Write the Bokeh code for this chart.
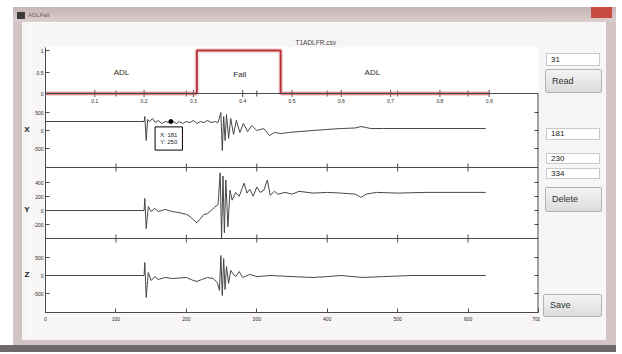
import math
from bokeh.plotting import figure
from bokeh.models import Range1d, FixedTicker, Label, Span, Div
from bokeh.layouts import row, column
from bokeh.embed import file_html
from bokeh.resources import INLINE
from bokeh.core.properties import value

# ---------------- data ----------------
window_title = "ADLFall"
file_name = "T1ADLFR.csv"

# top panel: activity state (0 = ADL, 1 = Fall)
state_t = [0.0, 0.307, 0.307, 0.477, 0.477, 0.9]
state_v = [0, 0, 1, 1, 0, 0]
phase_text = ["ADL", "Fall", "ADL"]
phase_t = [0.154, 0.394, 0.663]
phase_v = [0.49, 0.44, 0.49]
state_xticks = [0.1, 0.2, 0.3, 0.4, 0.5, 0.6, 0.7, 0.8, 0.9]
state_xtick_labels = ["0.1", "0.2", "0.3", "0.4", "0.5", "0.6", "0.7", "0.8", "0.9"]
state_yticks = [0, 0.5, 1]
state_ytick_labels = ["0", "0.5", "1"]

sample_ticks = [0, 100, 200, 300, 400, 500, 600, 700]

# accelerometer X
x_n = [0, 140, 141, 143, 145, 148, 152, 156, 160, 165, 170, 175, 181, 186, 190, 195, 200, 205,
       210, 215, 220, 225, 230, 235, 240, 245, 249, 251, 253, 255, 257, 260, 263, 267, 271, 276,
       281, 287, 293, 300, 310, 318, 325, 335, 345, 360, 380, 400, 420, 440, 448, 452, 456, 462,
       480, 520, 560, 600, 625]
x_acc = [250, 250, 390, -280, 305, 250, 335, 220, 280, 195, 250, 220, 250, 195, 250, 195, 250, 220,
         280, 195, 250, 220, 280, 220, 250, 220, 500, -555, 390, -280, 445, -220, 335, -110, 280, -55,
         195, -30, 140, 0, 55, -140, -55, -85, -55, -30, 0, 30, 55, 70, 110, 95, 80, 55,
         55, 55, 55, 55, 55]
x_ticks = [500, 0, -500]

# accelerometer Y
y_n = [0, 140, 141, 143, 146, 150, 155, 160, 170, 180, 190, 200, 205, 210, 215, 220, 225, 230,
       235, 240, 245, 248, 250, 252, 254, 256, 259, 262, 265, 270, 275, 282, 286, 290, 295, 300,
       305, 310, 315, 319, 325, 330, 340, 350, 360, 380, 400, 420, 440, 448, 455, 470, 500, 540,
       580, 625]
y_acc = [0, 0, 170, -255, 55, -15, 30, -15, 15, -15, -30, -55, -85, -130, -170, -115, -55, -45,
         0, 45, 85, 530, -385, 485, -315, 430, -230, 285, 145, 255, 200, 385, 245, 300, 200, 330,
         255, 285, 430, 215, 270, 230, 255, 230, 270, 245, 255, 245, 230, 185, 230, 255, 245, 255,
         255, 255]
y_ticks = [400, 200, 0, -200]

# accelerometer Z
z_n = [0, 140, 141, 143, 146, 150, 155, 160, 170, 180, 200, 210, 215, 222, 230, 238, 244, 247,
       249, 251, 253, 255, 257, 260, 263, 266, 270, 275, 280, 290, 300, 320, 350, 380, 400, 420,
       450, 480, 520, 625]
z_acc = [0, 0, 360, -610, 85, -140, -30, -110, -55, -85, -55, -140, -165, -110, -55, -85, -195, -415,
         555, -555, 470, -390, 250, -220, 140, 55, -30, 110, -55, 30, -30, 0, -30, -55, -30, 0,
         -55, -30, 0, 0]
z_ticks = [500, 0, -500]

axis_names = ["X", "Y", "Z"]
tip_n = 178
tip_v = 250
box_values = ["31", "181", "230", "334"]
button_labels = ["Read", "Delete", "Save"]

# ---------------- geometry / style ----------------
FONT = "Liberation Sans"
FRAME_TOP, FRAME_BOT = 47, 312          # page pixel rows of the plot frame
TOP_ZERO, TOP_PPU = 93, 43.0            # state panel: zero row, pixels per unit
X_ZERO, X_PPU = 130, 18.0 / 500
Y_ZERO, Y_PPU = 210, 14.2 / 200
Z_ZERO, Z_PPU = 275, 18.0 / 500
SEP_XY, SEP_YZ = 167, 238               # panel boundaries (page rows)
BODY_TOP = 22


def make_range(zero_px, ppu):
    return Range1d((zero_px - FRAME_BOT) / ppu, (zero_px - FRAME_TOP) / ppu)


def main_pos(zero_px, ppu, v):
    return int(round(FRAME_BOT - (zero_px - v * ppu)))


AX = "#4a4a4a"
TXT = "#2a2a2a"
SIG = "#474747"
FRAME_C = "#d2c4c4"
INNER_C = "#f7f5f5"

p = figure(width=510, height=318, x_range=Range1d(0, 700), y_range=make_range(FRAME_BOT, 1.0),
           output_backend="svg", toolbar_location=None,
           min_border_left=13, min_border_right=2, min_border_top=25, min_border_bottom=28)
p.extra_x_ranges = {"state": Range1d(0, 1)}
p.extra_y_ranges = {"state": make_range(TOP_ZERO, TOP_PPU),
                    "X": make_range(X_ZERO, X_PPU),
                    "Y": make_range(Y_ZERO, Y_PPU),
                    "Z": make_range(Z_ZERO, Z_PPU)}
p.xgrid.visible = False
p.ygrid.visible = False
p.outline_line_color = None
p.background_fill_color = "white"
p.border_fill_color = INNER_C

p.title.text = file_name
p.title.align = "left"
p.title.offset = 250
p.title.text_font = FONT
p.title.text_font_size = "6.5px"
p.title.text_font_style = "normal"
p.title.text_color = "#444444"
p.title.standoff = 4

# bottom axis
p.xaxis.ticker = FixedTicker(ticks=sample_ticks)
p.xaxis.major_tick_in = 4
p.xaxis.major_tick_out = 0
p.xaxis.minor_tick_line_color = None
p.xaxis.axis_line_color = AX
p.xaxis.major_tick_line_color = AX
p.xaxis.major_label_text_font_size = "5px"
p.xaxis.major_label_text_color = TXT
p.xaxis.major_label_text_font = FONT
p.xaxis.major_label_standoff = 4

# left axis with per-panel tick labels
yt_pos, yt_lab = [], {}
for zero, ppu, vals, labs in [(TOP_ZERO, TOP_PPU, state_yticks, state_ytick_labels),
                              (X_ZERO, X_PPU, x_ticks, [str(v) for v in x_ticks]),
                              (Y_ZERO, Y_PPU, y_ticks, [str(v) for v in y_ticks]),
                              (Z_ZERO, Z_PPU, z_ticks, [str(v) for v in z_ticks])]:
    for v, lab in zip(vals, labs):
        pos = main_pos(zero, ppu, v)
        yt_pos.append(pos)
        yt_lab[pos] = lab
p.yaxis.ticker = FixedTicker(ticks=yt_pos)
p.yaxis.major_label_overrides = yt_lab
p.yaxis.major_tick_in = 4
p.yaxis.major_tick_out = 0
p.yaxis.minor_tick_line_color = None
p.yaxis.axis_line_color = AX
p.yaxis.major_tick_line_color = AX
p.yaxis.major_label_text_font_size = "5px"
p.yaxis.major_label_text_color = TXT
p.yaxis.major_label_text_font = FONT
p.yaxis.major_label_standoff = 2

# panel separators with crossing ticks
sep_main = [FRAME_BOT - SEP_XY, FRAME_BOT - SEP_YZ]
top_main = FRAME_BOT - TOP_ZERO
for s in sep_main + [top_main]:
    p.add_layout(Span(location=s, dimension="width", line_color=AX, line_width=1))
inner_ticks = sample_ticks[1:-1]
for s in sep_main:
    p.scatter(x=inner_ticks, y=[s] * len(inner_ticks), marker="dash", angle=math.pi / 2,
              size=8, line_color=AX, line_width=1)
p.scatter(x=inner_ticks, y=[top_main] * len(inner_ticks), marker="dash", angle=math.pi / 2,
          size=6, line_color=AX, line_width=1)
# right box edge with inward ticks (lower panels)
p.segment(x0=[700], y0=[0], x1=[700], y1=[top_main], line_color=AX, line_width=2)
low_ticks = [t for t in yt_pos if t < top_main]
p.scatter(x=[700] * len(low_ticks), y=low_ticks, marker="dash", size=8, line_color=AX, line_width=1)

# state panel
p.scatter(x=state_xticks, y=[0] * len(state_xticks), x_range_name="state", y_range_name="state",
          marker="dash", angle=math.pi / 2, size=7, line_color=AX, line_width=1)
p.line(state_t, state_v, x_range_name="state", y_range_name="state",
       line_color="#e39a9a", line_width=5, line_alpha=0.35)
p.line(state_t, state_v, x_range_name="state", y_range_name="state",
       line_color="#b8343a", line_width=2)
p.text(x=phase_t, y=phase_v, text=phase_text, x_range_name="state", y_range_name="state",
       text_font=value(FONT), text_font_size="8px", text_align="center", text_baseline="middle",
       text_color=TXT)
lab_y = -7.0 / TOP_PPU
p.text(x=state_xticks, y=[lab_y] * len(state_xticks), text=state_xtick_labels,
       x_range_name="state", y_range_name="state", text_font=value(FONT), text_font_size="5px",
       text_align="center", text_baseline="middle", text_color=TXT)

# accelerometer traces
p.line(x_n, x_acc, y_range_name="X", line_color=SIG, line_width=1)
p.line(y_n, y_acc, y_range_name="Y", line_color=SIG, line_width=1)
p.line(z_n, z_acc, y_range_name="Z", line_color=SIG, line_width=1)

# data tip
p.scatter([tip_n], [tip_v], y_range_name="X", size=4, color="black")
p.add_layout(Label(x=175, y=-(138 - X_ZERO) / X_PPU, y_range_name="X",
                   text=f"X: 181\nY: {tip_v}", text_font=FONT, text_font_size="6px",
                   text_align="center", text_baseline="middle", text_color="#222",
                   background_fill_color="white", border_line_color="black", padding=5))

# ---------------- window chrome ----------------
FF = "font-family:'Liberation Sans',Arial,sans-serif;"
title_html = (
    f'<div style="position:relative;width:616px;height:22px;background:#ffffff;{FF}">'
    '<div style="position:absolute;left:13px;top:7px;width:603px;height:15px;'
    'background:linear-gradient(#c6b6b6,#dbcece);"></div>'
    '<div style="position:absolute;left:17px;top:12px;width:8px;height:7px;background:#3b3b3b;"></div>'
    f'<div style="position:absolute;left:28px;top:11px;font-size:6px;color:#6a6060;">{window_title}</div>'
    '<div style="position:absolute;left:591px;top:7px;width:21px;height:11px;background:#c84a40;"></div>'
    '</div>')
title_div = Div(text=title_html, width=616, height=22, margin=(0, 0, 0, 0))

name_rows = [X_ZERO, Y_ZERO, Z_ZERO]
left_html = (
    f'<div style="position:relative;width:30px;height:318px;background:#ffffff;{FF}">'
    f'<div style="position:absolute;left:13px;top:0px;width:9px;height:318px;background:{FRAME_C};"></div>'
    f'<div style="position:absolute;left:22px;top:0px;width:8px;height:318px;background:{INNER_C};"></div>'
    + "".join(
        f'<div style="position:absolute;left:23px;top:{r - BODY_TOP - 5}px;width:8px;height:10px;'
        f'line-height:10px;text-align:center;font-size:8px;font-weight:bold;color:#222;">{n}</div>'
        for n, r in zip(axis_names, name_rows))
    + '</div>')
left_div = Div(text=left_html, width=30, height=318, margin=(0, 0, 0, 0))


def box(left, top, w, h, txt):
    return (f'<div style="position:absolute;left:{left}px;top:{top}px;width:{w}px;height:{h}px;'
            f'box-sizing:border-box;background:#ffffff;border:1px solid #c9c9c9;font-size:8px;'
            f'line-height:{h - 2}px;padding-left:4px;color:#222;">{txt}</div>')


def button(left, top, w, h, txt):
    return (f'<div style="position:absolute;left:{left}px;top:{top}px;width:{w}px;height:{h}px;'
            f'box-sizing:border-box;background:linear-gradient(#f4f4f4,#dcdcdc);'
            f'border:1px solid #b2b2b2;border-radius:2px;font-size:9px;line-height:{h - 2}px;'
            f'padding-left:6px;color:#333;">{txt}</div>')


right_html = (
    f'<div style="position:relative;width:66px;height:318px;background:{INNER_C};{FF}">'
    + box(6, 31, 54, 13, box_values[0])
    + button(5, 47, 57, 24, button_labels[0])
    + box(6, 106, 54, 12, box_values[1])
    + box(6, 131, 54, 11, box_values[2])
    + box(6, 146, 54, 11, box_values[3])
    + button(5, 165, 57, 25, button_labels[1])
    + button(3, 272, 59, 23, button_labels[2])
    + '</div>')
right_div = Div(text=right_html, width=66, height=318, margin=(0, 0, 0, 0))

right_border = Div(text="", width=10, height=318, margin=(0, 0, 0, 0),
                   styles={"background-color": FRAME_C})
bottom_html = (
    '<div style="position:relative;width:616px;height:12px;background:#ffffff;">'
    f'<div style="position:absolute;left:13px;top:0px;width:603px;height:5px;background:{FRAME_C};"></div>'
    '<div style="position:absolute;left:0px;top:5px;width:616px;height:7px;background:#6f6969;"></div>'
    '</div>')
bottom_div = Div(text=bottom_html, width=616, height=12, margin=(0, 0, 0, 0))

body = row(left_div, p, right_div, right_border, spacing=0)
layout = column(title_div, body, bottom_div, spacing=0)

open("out.html", "w").write(file_html(layout, INLINE))
